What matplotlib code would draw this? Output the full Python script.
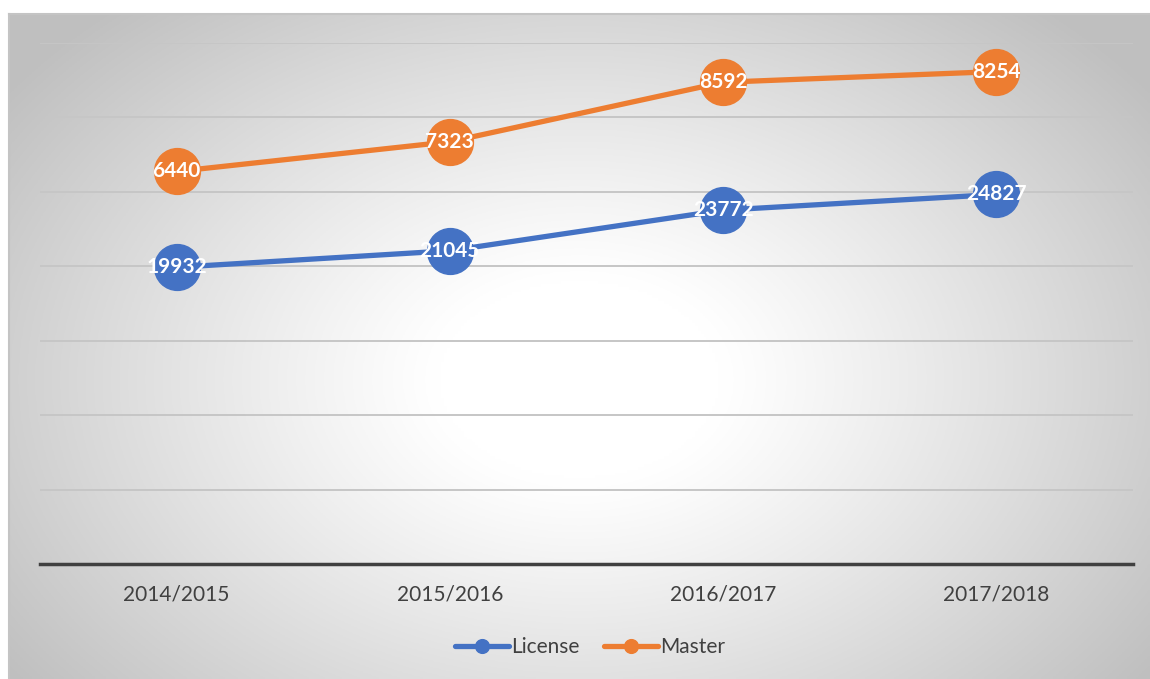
import numpy as np
import matplotlib
matplotlib.use('Agg')
import matplotlib.pyplot as plt

# data
categories = ['2014/2015', '2015/2016', '2016/2017', '2017/2018']
license_vals = [19932, 21045, 23772, 24827]
master_vals = [6440, 7323, 8592, 8254]

BLUE = '#4472c4'
ORANGE = '#ed7d31'
TEXT = '#404040'

plt.rcParams['font.family'] = ['Lato', 'DejaVu Sans']

W, H = 1150, 679
fig = plt.figure(figsize=(W / 100, H / 100), dpi=100, facecolor='white')

# chart background with radial gradient (Excel style)
bx0, by0 = 9, 14
bg = fig.add_axes([bx0 / W, 0, 1 - bx0 / W, 1 - by0 / H])
gw, gh = 400, 240
xx, yy = np.meshgrid(np.linspace(0, 1, gw), np.linspace(0, 1, gh))
r = np.sqrt(((xx - 0.5) / 0.62) ** 2 + ((yy - 0.55) / 0.75) ** 2)
r = np.clip(r, 0, 1)
shade = 1.0 - 0.25 * np.clip((r - 0.2) / 0.8, 0, 1) ** 1.1
bg.imshow(np.dstack([shade] * 3), extent=[0, 1, 0, 1], aspect='auto', origin='upper')
bg.set_axis_off()
fig.add_artist(plt.Line2D([bx0 / W, 1], [1 - by0 / H, 1 - by0 / H], color='#c4c4c4', lw=1.5))
fig.add_artist(plt.Line2D([bx0 / W, bx0 / W], [0, 1 - by0 / H], color='#c4c4c4', lw=1.5))

# plot area
px0, px1 = 40, 1133
py0, py1 = 43, 564
ax = fig.add_axes([px0 / W, 1 - py1 / H, (px1 - px0) / W, (py1 - py0) / H])
ax.patch.set_alpha(0)

x = np.arange(len(categories))
stack_top = np.array(license_vals) + np.array(master_vals)

ax.plot(x, license_vals, color=BLUE, lw=3.8, marker='o', ms=33, zorder=3,
        solid_capstyle='round', label='License')
ax.plot(x, stack_top, color=ORANGE, lw=3.8, marker='o', ms=33, zorder=3,
        solid_capstyle='round', label='Master')

for xi, yv, v in zip(x, license_vals, license_vals):
    ax.text(xi, yv, str(v), color='white', fontsize=15, fontweight='bold',
            ha='center', va='center', zorder=5)
for xi, yv, v in zip(x, stack_top, master_vals):
    ax.text(xi, yv, str(v), color='white', fontsize=15, fontweight='bold',
            ha='center', va='center', zorder=5)

ax.set_xlim(-0.5, len(categories) - 0.5)
ax.set_ylim(0, 35000)
ax.set_yticks(np.arange(5000, 35001, 5000))
ax.yaxis.grid(True, color='#c6c6c6', lw=1.4)
ax.set_axisbelow(True)
ax.tick_params(axis='y', left=False, labelleft=False)
ax.set_xticks(x)
ax.set_xticklabels(categories, fontsize=15, color=TEXT)
ax.tick_params(axis='x', length=0, pad=15)
for s in ['top', 'left', 'right']:
    ax.spines[s].set_visible(False)
ax.spines['bottom'].set_color('#404040')
ax.spines['bottom'].set_linewidth(2.5)

leg = fig.legend(loc='center', bbox_to_anchor=(590 / W, 1 - 647 / H), ncol=2,
                 frameon=False, fontsize=15, markerscale=0.3, handlelength=2.6,
                 handletextpad=0.1, columnspacing=1.2, labelcolor=TEXT)

fig.savefig('out.png', dpi=100)
